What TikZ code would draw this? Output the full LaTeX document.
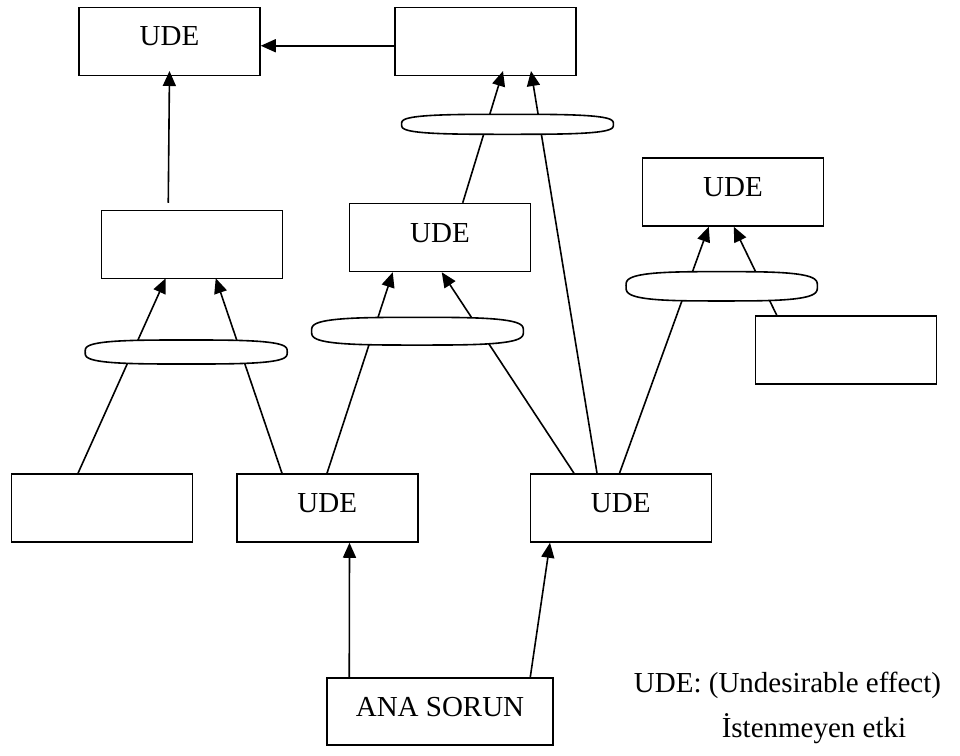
\documentclass[tikz,border=0pt]{standalone}
\usepackage{fontspec}
\setmainfont{Liberation Serif}
\usetikzlibrary{arrows.meta,calc}

% oval "and" connector (superellipse): name, centre x, centre y, width, height
\newcommand\andoval[5]{%
  \node[ovalnode, minimum width=#4pt, minimum height=#5pt] (#1) at (#2,#3) {};
  \draw[ovalline] plot[domain=0.5:360.5, samples=181]
    ({#2+#4/2*sign(cos(\x))*abs(cos(\x))^0.6},
     {#3+#5/2*sign(sin(\x))*abs(sin(\x))^0.6}) -- cycle;
}

\tikzset{
  box/.style={draw, line width=1.5pt, rectangle, minimum width=181pt,
    minimum height=68pt, inner sep=0pt, text height=18pt, text depth=9pt,
    font=\fontsize{29}{35}\selectfont},
  link/.style={line width=1.6pt, -{Triangle[length=15pt,width=13pt]}},
  ovalnode/.style={inner sep=0pt, draw=none},
  ovalline/.style={line width=1.6pt, fill=white},
  legend/.style={anchor=base, inner sep=0pt, font=\fontsize{29}{35}\selectfont}
}

\begin{document}
\begin{tikzpicture}[x=1pt, y=-1pt]
  \useasboundingbox[fill=white] (0,0) rectangle (960,755);

  % boxes
  \node[box] (b1) at (169.5,41.25) {UDE};
  \node[box] (b2) at (485.25,41.25) {};
  \node[box] (b3) at (192,244.5) {};
  \node[box] (b4) at (440,237.5) {UDE};
  \node[box] (b5) at (733,192) {UDE};
  \node[box] (b6) at (846,350) {};
  \node[box] (b7) at (101.75,508) {};
  \node[box] (b8) at (327.25,508) {UDE};
  \node[box] (b9) at (620.75,508) {UDE};
  \node[box, minimum width=226pt, minimum height=67pt] (b10) at (440,711.5) {ANA SORUN};

  % connectors
  \draw[link] ($(b2.west)+(0,4.5)$) -- ($(b1.east)+(0,4.5)$);
  \coordinate (c0) at ($(b3.north west)+(67.5,-7)$);
  \draw[link] (c0) -- ($(b1.south)+(0,-5)$);
  \draw[link] ($(b4.north west)+(114,0)$) -- ($(b2.south west)+(109,-5)$);
  \draw[link] ($(b9.north west)+(67.5,0)$) -- ($(b2.south west)+(137,-5)$);
  \draw[link] ($(b7.north west)+(67.5,0)$) -- ($(b3.south west)+(65,-1)$);
  \draw[link] ($(b8.north west)+(46,0)$) -- ($(b3.south west)+(115,-1)$);
  \draw[link] ($(b8.north west)+(91,0)$) -- ($(b4.south west)+(44,0)$);
  \draw[link] ($(b9.north west)+(44.5,0)$) -- ($(b4.south west)+(93,0)$);
  \draw[link] ($(b9.north west)+(90,0)$) -- ($(b5.south west)+(67,0)$);
  \draw[link] ($(b6.north west)+(22,0)$) -- ($(b5.south west)+(92,0)$);
  \draw[link] ($(b10.north west)+(23,0)$) -- ($(b8.south west)+(113.5,0)$);
  \draw[link] ($(b10.north west)+(204,0)$) -- ($(b9.south west)+(20.5,0)$);

  % ovals joining pairs of arrows
  \andoval{o1}{507.5}{124.3}{211.7}{20}
  \andoval{o2}{186.2}{352}{202}{24}
  \andoval{o3}{417.5}{331.2}{211.7}{27.7}
  \andoval{o4}{721.7}{286.3}{191.3}{29.3}

  % legend
  \node[legend] (l1) at (787.5,692) {UDE: (Undesirable effect)};
  \node[legend] (l2) at (814,737) {İstenmeyen etki};
\end{tikzpicture}
\end{document}
